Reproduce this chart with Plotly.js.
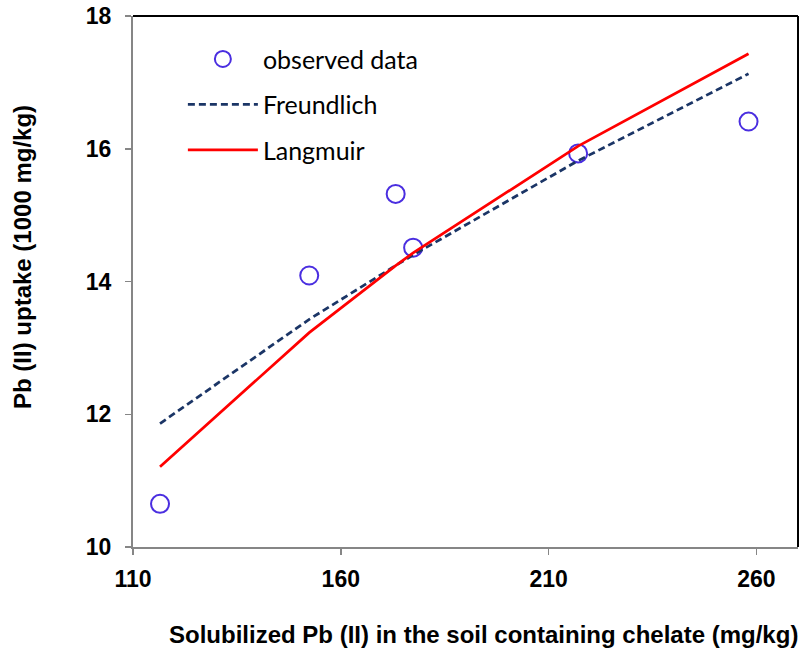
<!DOCTYPE html>
<html>
<head>
<meta charset="utf-8">
<script src="https://cdn.plot.ly/plotly-3.0.1.min.js"></script>
<style>html,body{margin:0;padding:0;background:#fff;}#chart{width:801px;height:652px;}</style>
</head>
<body>
<div id="chart"></div>
<script>
// Solubilized Pb (II) in soil (mg/kg)
const solubilizedPb = [116.5, 152.4, 173.2, 177.4, 217.1, 258.1];
// Observed Pb (II) uptake (1000 mg/kg)
const observedUptake = [10.65, 14.09, 15.32, 14.51, 15.93, 16.41];
// Model curves
const freundlichUptake = [11.86, 13.43, 14.24, 14.40, 15.82, 17.13];
const langmuirUptake = [11.21, 13.23, 14.24, 14.43, 16.04, 17.43];
const xTicks = [110, 160, 210, 260];
const yTicks = [10, 12, 14, 16, 18];
const xTitle = 'Solubilized Pb (II) in the soil containing chelate (mg/kg)';
const yTitle = 'Pb (II) uptake (1000 mg/kg)';

const legendFont = {family: 'Lato, "Noto Sans", sans-serif', size: 25, color: '#000'};

const traces = [
  {x: solubilizedPb, y: observedUptake, type: 'scatter', mode: 'markers', name: 'observed data',
   legendgroup: 'a',
   marker: {symbol: 'circle-open', size: 18, color: '#4a2ee0', line: {width: 2, color: '#4a2ee0'}}},
  {x: solubilizedPb, y: freundlichUptake, type: 'scatter', mode: 'lines', name: 'Freundlich',
   legendgroup: 'b',
   line: {color: '#1b3566', width: 2.75, dash: '7px,4px'}},
  {x: solubilizedPb, y: langmuirUptake, type: 'scatter', mode: 'lines', name: 'Langmuir',
   legendgroup: 'c',
   line: {color: '#ff0000', width: 2.75}}
];

const axisFont = {family: '"Liberation Sans", Arial, sans-serif', size: 23, color: '#000', weight: 'bold'};
const titleFont = {family: '"Liberation Sans", Arial, sans-serif', size: 24, color: '#000', weight: 'bold'};

const layout = {
  width: 801, height: 652,
  margin: {l: 133, r: 3, t: 16, b: 105},
  paper_bgcolor: '#fff', plot_bgcolor: '#fff',
  showlegend: true,
  legend: {x: 0.075, y: 0.962, xanchor: 'left', yanchor: 'top', font: legendFont,
           bgcolor: 'rgba(0,0,0,0)', itemwidth: 70, tracegroupgap: 10},
  xaxis: {range: [110, 270], tickvals: xTicks, ticktext: xTicks.map(String),
          showgrid: false, zeroline: false, showline: true, linecolor: '#868686', linewidth: 2,
          ticks: 'outside', ticklen: 6, tickwidth: 1.5, tickcolor: '#868686',
          tickfont: axisFont, ticklabelstandoff: 4},
  yaxis: {range: [10, 18], tickvals: yTicks, ticktext: yTicks.map(String),
          showgrid: false, zeroline: false, showline: true, linecolor: '#868686', linewidth: 2,
          ticks: 'outside', ticklen: 6, tickwidth: 1.5, tickcolor: '#868686',
          tickfont: axisFont, ticklabelstandoff: 9},
  annotations: [
    {text: xTitle, xref: 'paper', yref: 'paper', x: (483 - 133) / 665, y: (547 - 634) / 531,
     xanchor: 'center', yanchor: 'middle', showarrow: false, font: titleFont},
    {text: yTitle, xref: 'paper', yref: 'paper', x: (22 - 133) / 665, y: (547 - 257) / 531,
     xanchor: 'center', yanchor: 'middle', textangle: -90, showarrow: false, font: titleFont}
  ],
  shapes: [
    {type: 'line', xref: 'paper', yref: 'paper', x0: 0, x1: 1, y0: 1, y1: 1, line: {color: '#000', width: 2}},
    {type: 'line', xref: 'paper', yref: 'paper', x0: 1, x1: 1, y0: 0, y1: 1, line: {color: '#000', width: 2}}
  ]
};

Plotly.newPlot('chart', traces, layout, {displayModeBar: false, staticPlot: true});
</script>
</body>
</html>
